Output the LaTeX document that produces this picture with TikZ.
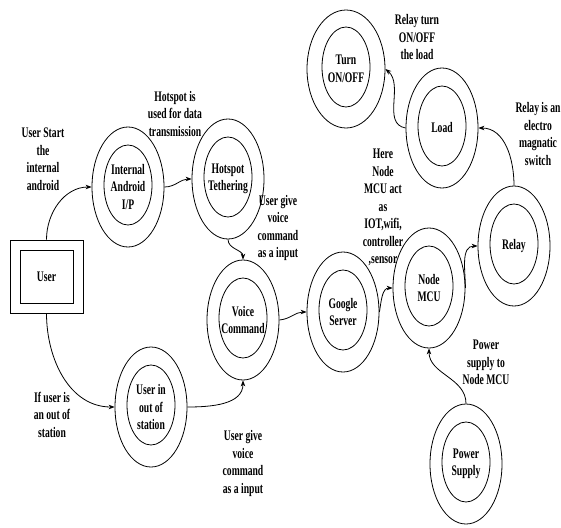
\documentclass[tikz,border=0pt]{standalone}
\usepackage{fontspec}
\setmainfont{Liberation Serif}[FakeStretch=0.66]
\usetikzlibrary{shapes.geometric,arrows.meta}
\begin{document}
\begin{tikzpicture}[x=1pt,y=-1pt,
  every node/.style={font=\fontsize{14.6}{17.5}\selectfont\bfseries},
  proc/.style={ellipse, draw, line width=0.8pt, minimum width=72pt, minimum height=120pt,
    inner sep=0pt, align=center,
    path picture={\draw[line width=0.8pt] ([yshift=2pt]path picture bounding box.center) ellipse [x radius=24pt, y radius=40pt];}},
  userbox/.style={draw, line width=0.8pt, minimum width=73pt, minimum height=73pt, inner sep=0pt,
    path picture={\draw[line width=0.8pt] ([shift={(10pt,10pt)}]path picture bounding box.south west) rectangle ([shift={(-10pt,-10pt)}]path picture bounding box.north east);}},
  lbl/.style={align=center, inner sep=0pt},
  arr/.style={-{Stealth[length=6pt,width=4.5pt]}, line width=0.8pt}]
\useasboundingbox[fill=white] (0,0) rectangle (561,527);

% nodes
\node[userbox] (user) at (46.5,276.5) {User};
\node[proc] (android) at (128,187) {Internal\\Android\\I/P};
\node[proc] (hotspot) at (228,179) {Hotspot\\Tethering};
\node[proc] (voice) at (243,320) {Voice\\Command};
\node[proc] (station) at (151,407) {User in\\out of\\station};
\node[proc] (google) at (343,312) {Google\\Server};
\node[proc] (mcu) at (429,288) {Node\\MCU};
\node[proc] (relay) at (514,246) {Relay};
\node[proc] (load) at (442,128) {Load};
\node[proc, minimum width=78pt, minimum height=118pt] (turn) at (346,69) {Turn\\ON/OFF};
\node[proc] (power) at (466,464) {Power\\Supply};

% labels
\node[lbl] (lstart) at (43,159) {User Start\\the\\internal\\android};
\node[lbl] (lhot) at (175,114) {Hotspot is\\used for data\\transmission};
\node[lbl] (lvoice1) at (278,228) {User give\\voice\\command\\as a input};
\node[lbl] (lhere) at (383,207.5) {Here\\Node\\MCU act\\as\\IOT,wifi,\\controller\\,sensor};
\node[lbl] (lrelayturn) at (417,37.5) {Relay turn\\ON/OFF\\the load};
\node[lbl] (lrelayis) at (538,134) {Relay is an\\electro\\magnatic\\switch};
\node[lbl] (lif) at (52,414.5) {If user is\\an out of\\station};
\node[lbl] (lvoice2) at (243,463.5) {User give\\voice\\command\\as a input};
\node[lbl] (lpower) at (486,362.5) {Power\\supply to\\Node MCU};

% connectors
\draw[arr] (user.north) to[out=90,in=180] (android.west);
\draw[arr] (android.east) to[out=0,in=180] (hotspot.west);
\draw[arr] (hotspot.south) to[out=-90,in=90] (voice.north);
\draw[arr] (user.south) to[out=-90,in=180] (station.west);
\draw[arr] (station.east) to[out=0,in=-90] (voice.south);
\draw[arr] (voice.east) to[out=5,in=180] (google.west);
\draw[arr] (google.east) to[out=80,in=180] (mcu.west);
\draw[arr] (mcu.east) to[out=90,in=180] (relay.west);
\draw[arr] (relay.north) to[out=90,in=0] (load.east);
\draw[arr] (load.west) to[out=170,in=-40] (turn.east);
\draw[arr] (power.north) to[out=90,in=-90] (mcu.south);
\end{tikzpicture}
\end{document}
